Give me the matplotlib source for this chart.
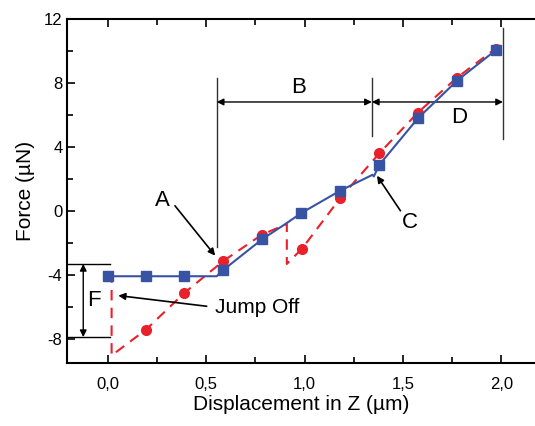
import matplotlib
matplotlib.use("Agg")
import matplotlib.pyplot as plt
from matplotlib.ticker import FuncFormatter, MultipleLocator

plt.rcParams['font.family'] = ['Liberation Sans', 'DejaVu Sans']

# approach curve (squares) and retract curve (circles)
blue_marker_x = [0.0, 0.195, 0.39, 0.588, 0.786, 0.984, 1.18, 1.38, 1.576, 1.775, 1.97]
blue_marker_y = [-4.08, -4.1, -4.1, -3.7, -1.77, -0.14, 1.25, 2.88, 5.79, 8.15, 10.04]
blue_line_x = [0.0, 0.2, 0.4, 0.554, 0.588, 0.786, 0.9, 0.984, 1.18, 1.345, 1.352, 1.38, 1.576, 1.775, 1.97, 1.985]
blue_line_y = [-4.1, -4.1, -4.1, -4.1, -3.7, -1.77, -0.85, -0.14, 1.25, 2.25, 2.15, 2.88, 5.79, 8.15, 10.04, 10.2]

red_marker_x = [0.0, 0.195, 0.39, 0.588, 0.783, 0.986, 1.18, 1.38, 1.576, 1.775, 1.97]
red_marker_y = [-4.1, -7.44, -5.14, -3.14, -1.5, -2.39, 0.77, 3.6, 6.15, 8.34, 10.15]
red_line_x = [0.0, 0.02, 0.02, 0.195, 0.39, 0.588, 0.783, 0.91, 0.91, 0.986, 1.18, 1.38, 1.576, 1.775, 1.97, 2.005]
red_line_y = [-4.1, -4.1, -9.06, -7.44, -5.14, -3.14, -1.5, -0.83, -3.33, -2.39, 0.77, 3.6, 6.15, 8.34, 10.15, 10.5]

blau = '#3953a4'
rot = '#e8212a'

fig = plt.figure(figsize=(5.35, 4.26), dpi=100)
ax = fig.add_axes([0.1258, 0.1472, 0.874, 0.808])

ax.plot(red_line_x, red_line_y, color=rot, lw=1.5, dashes=(5, 3.5), zorder=2)
ax.plot(red_marker_x, red_marker_y, 'o', color=rot, ms=7, zorder=3)
ax.plot(blue_line_x, blue_line_y, color=blau, lw=1.5, zorder=4)
ax.plot(blue_marker_x, blue_marker_y, 's', color=blau, ms=6.5, zorder=5)

ax.set_xlim(-0.205, 2.17)
ax.set_ylim(-9.55, 12)

ax.xaxis.set_major_locator(MultipleLocator(0.5))
ax.xaxis.set_minor_locator(MultipleLocator(0.25))
ax.yaxis.set_major_locator(MultipleLocator(4))
ax.yaxis.set_minor_locator(MultipleLocator(2))
ax.xaxis.set_major_formatter(FuncFormatter(lambda v, p: f"{v:.1f}".replace('.', ',')))
ax.yaxis.set_major_formatter(FuncFormatter(lambda v, p: f"{v:g}"))
ax.tick_params(which='both', direction='in', top=True, right=False, labelsize=12, width=1.2)
ax.tick_params(which='major', length=6)
ax.tick_params(which='minor', length=4)
ax.tick_params(axis='x', which='major', pad=10)
for s in ['left', 'bottom', 'top']:
    ax.spines[s].set_linewidth(1.5)
ax.spines['right'].set_visible(False)

ax.set_xlabel('Displacement in Z (µm)', fontsize=15, labelpad=2)
ax.set_ylabel('Force (µN)', fontsize=15, labelpad=6)

# region markers
linienfarbe = '#333333'
ax.plot([0.554, 0.554], [-2.29, 8.34], color=linienfarbe, lw=1)
ax.plot([1.342, 1.342], [4.69, 8.34], color=linienfarbe, lw=1)
ax.plot([2.008, 2.008], [4.48, 11.46], color=linienfarbe, lw=1)
ax.plot([-0.205, 0.012], [-3.33, -3.33], color='black', lw=1)
ax.plot([-0.205, 0.012], [-7.91, -7.91], color='black', lw=1)

pfeil2 = dict(arrowstyle='<|-|>', color='black', lw=1, mutation_scale=10, shrinkA=0, shrinkB=0)
ax.annotate('', xy=(1.342, 6.81), xytext=(0.554, 6.81), arrowprops=pfeil2)
ax.annotate('', xy=(2.008, 6.81), xytext=(1.342, 6.81), arrowprops=pfeil2)
ax.annotate('', xy=(-0.124, -7.91), xytext=(-0.124, -3.33), arrowprops=pfeil2)

pfeil = dict(arrowstyle='-|>', color='black', lw=1.2, mutation_scale=10, shrinkA=0, shrinkB=0)
ax.annotate('', xy=(0.546, -2.81), xytext=(0.342, 0.31), arrowprops=pfeil)
ax.annotate('', xy=(1.368, 2.19), xytext=(1.487, 0.0), arrowprops=pfeil)
ax.annotate('', xy=(0.054, -5.31), xytext=(0.503, -5.98), arrowprops=pfeil)

ax.text(0.28, 0.66, 'A', fontsize=16, ha='center', va='center')
ax.text(0.969, 7.71, 'B', fontsize=16, ha='center', va='center')
ax.text(1.537, -0.73, 'C', fontsize=16, ha='center', va='center')
ax.text(1.787, 5.84, 'D', fontsize=16, ha='center', va='center')
ax.text(-0.068, -5.62, 'F', fontsize=16, ha='center', va='center')
ax.text(0.757, -6.04, 'Jump Off', fontsize=15, ha='center', va='center')

fig.savefig('out.png', dpi=100)
